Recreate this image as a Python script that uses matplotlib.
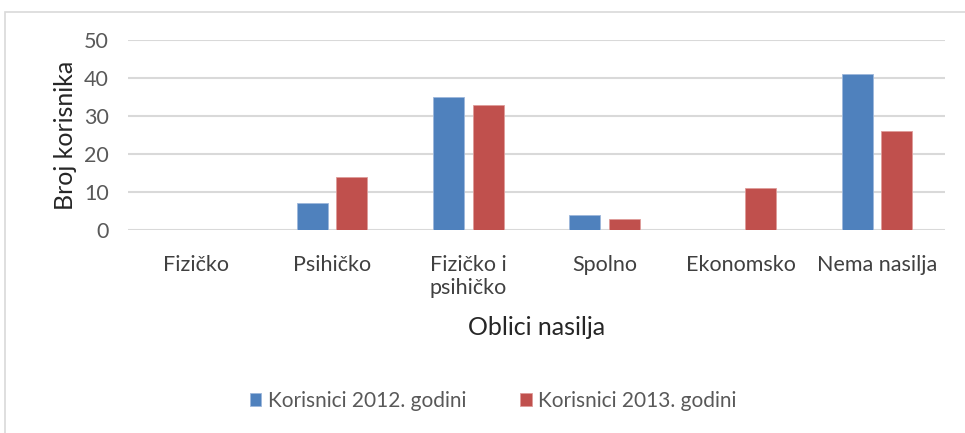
import matplotlib
matplotlib.use("Agg")
import matplotlib.pyplot as plt
import numpy as np
from matplotlib.patches import Rectangle

categories = ["Fizičko", "Psihičko", "Fizičko i\npsihičko", "Spolno", "Ekonomsko", "Nema nasilja"]
series_names = ["Korisnici 2012. godini", "Korisnici 2013. godini"]
values_2012 = [0, 7, 35, 4, 0, 41]
values_2013 = [0, 14, 33, 3, 11, 26]
yticks = [0, 10, 20, 30, 40, 50]

plt.rcParams['font.family'] = ['Lato', 'DejaVu Sans']

fig = plt.figure(figsize=(9.65, 4.33), dpi=100)
ax = fig.add_axes([128/965, 1-230/433, (945-128)/965, (230-40)/433])

x = np.arange(len(categories))
w = 0.228
gap = 0.06
ax.bar(x - (w+gap)/2, values_2012, w, color="#4F81BD", edgecolor="#9DB7DB", linewidth=0.6, label=series_names[0], zorder=3)
ax.bar(x + (w+gap)/2, values_2013, w, color="#C0504D", edgecolor="#DE9C9A", linewidth=0.6, label=series_names[1], zorder=3)

ax.set_xlim(-0.5, len(categories)-0.5)
ax.set_ylim(0, 50)
ax.set_yticks(yticks)
ax.set_yticklabels([str(t) for t in yticks])
ax.set_xticks(x)
ax.set_xticklabels(categories, linespacing=1.2)
ax.yaxis.grid(True, color="#D9D9D9", linewidth=1.5, zorder=0)
ax.set_axisbelow(True)
for s in ax.spines.values():
    s.set_visible(False)
ax.tick_params(axis='both', length=0, colors="#595959", labelsize=15.5)
ax.tick_params(axis='x', pad=18, labelcolor="#404040")
ax.tick_params(axis='y', pad=14)
for lbl in ax.get_xticklabels():
    lbl.set_verticalalignment('top')

ax.set_ylabel("Broj korisnika", fontsize=18, color="#262626", labelpad=5)
ax.set_xlabel("Oblici nasilja", fontsize=18, color="#262626", labelpad=13)

leg = fig.legend(loc="center", bbox_to_anchor=(493/965, 1-401/433), ncol=2, frameon=False,
                 fontsize=15, handlelength=0.55, handleheight=0.55, handletextpad=0.3,
                 columnspacing=2.6, labelcolor="#595959")

fig.patches.append(Rectangle((5/965, -0.1), 1.1, 1-12/433+0.1, transform=fig.transFigure,
                             fill=False, edgecolor="#D9D9D9", linewidth=1.2))

fig.savefig("out.png", dpi=100)
